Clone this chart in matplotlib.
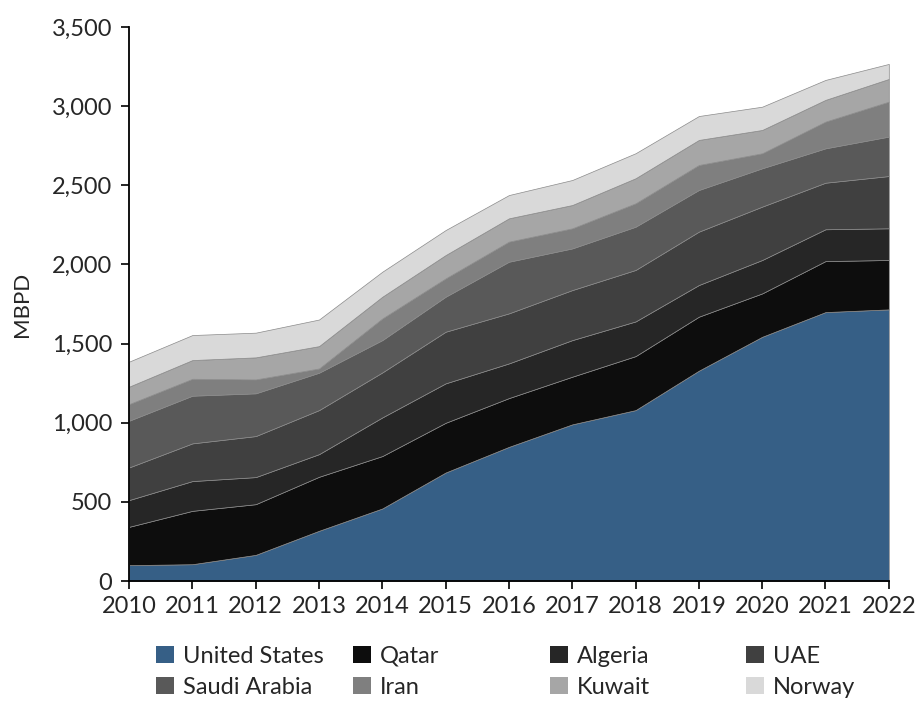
import numpy as np
import matplotlib.pyplot as plt
from matplotlib.patches import Patch
from matplotlib.ticker import FuncFormatter

plt.rcParams['font.family'] = ['Lato', 'DejaVu Sans']

years = list(range(2010, 2023))
countries = ['United States', 'Qatar', 'Algeria', 'UAE',
             'Saudi Arabia', 'Iran', 'Kuwait', 'Norway']

# MBPD per country (stacked layers)
us      = [101, 107, 166, 318, 459, 686, 848, 990, 1080, 1329, 1543, 1699, 1716]
qatar   = [242, 337, 320, 341, 331, 314, 308, 301, 341, 341, 274, 322, 312]
algeria = [169, 188, 171, 143, 244, 249, 219, 231, 219, 200, 211, 201, 200]
uae     = [206, 238, 259, 278, 284, 326, 316, 316, 325, 337, 337, 294, 330]
saudi   = [295, 301, 270, 236, 204, 221, 326, 263, 273, 263, 242, 217, 249]
iran    = [105, 107, 88, 27, 137, 116, 127, 127, 148, 158, 95, 169, 221]
kuwait  = [110, 118, 139, 141, 137, 147, 147, 147, 158, 158, 147, 137, 143]
norway  = [158, 158, 156, 168, 158, 158, 147, 158, 158, 151, 147, 126, 95]

series = [us, qatar, algeria, uae, saudi, iran, kuwait, norway]
colors = ['#365f86', '#0d0d0d', '#262626', '#404040',
          '#595959', '#7f7f7f', '#a6a6a6', '#d9d9d9']
txt = '#262626'

fig = plt.figure(figsize=(9.22, 7.07), dpi=100)
ax = fig.add_axes([0.140, 0.178, 0.824, 0.784])

ax.stackplot(years, *series, colors=colors, edgecolor='#8a8a8a', linewidth=0.5)

ax.set_xlim(2010, 2022)
ax.set_ylim(0, 3500)
ax.set_xticks(years)
ax.set_yticks(np.arange(0, 3501, 500))
ax.yaxis.set_major_formatter(FuncFormatter(lambda v, p: f'{int(v):,}'))
ax.tick_params(axis='both', labelsize=17, labelcolor=txt, color='black',
               length=6, width=1.2, direction='out')
ax.tick_params(axis='x', pad=5)
ax.tick_params(axis='y', pad=6)
for s in ['top', 'right']:
    ax.spines[s].set_visible(False)
for s in ['left', 'bottom']:
    ax.spines[s].set_color('black')
    ax.spines[s].set_linewidth(1.3)
ax.set_ylabel('MBPD', fontsize=16, color=txt)
ax.yaxis.set_label_coords(-0.128, 0.5)

# legend: 2 rows x 4 equal-width columns, like the original
col_x = [156, 353, 550, 746]
for i, x in enumerate(col_x):
    idx = [i, i + 4]
    handles = [Patch(facecolor=colors[k], edgecolor='none') for k in idx]
    fig.legend(handles, [countries[k] for k in idx], loc='upper left',
               bbox_to_anchor=(x / 922, 1 - 646 / 707), frameon=False,
               fontsize=17, labelcolor=txt, handlelength=0.75, handleheight=0.75,
               handletextpad=0.4, labelspacing=0.42, borderpad=0, borderaxespad=0)

fig.savefig('out.png', dpi=100)
